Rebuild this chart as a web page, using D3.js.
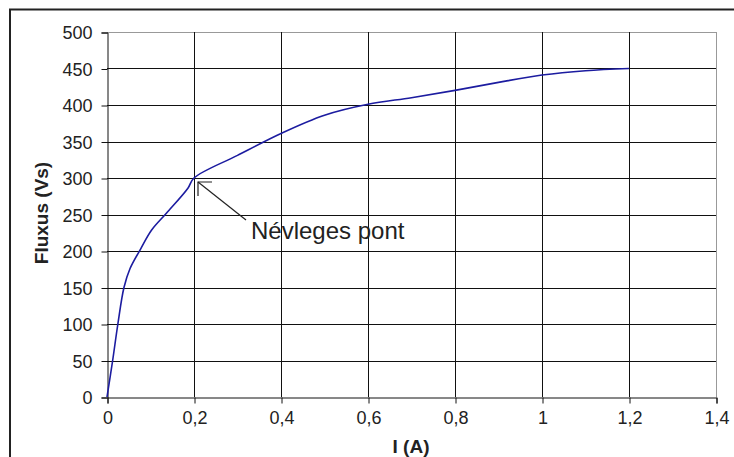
<!DOCTYPE html>
<html><head><meta charset="utf-8">
<script src="https://cdn.jsdelivr.net/npm/d3@7"></script>
<style>
html,body{margin:0;padding:0;background:#fff;}
svg{display:block;}
text{font-family:"Liberation Sans",Arial,sans-serif;fill:#222;}
</style></head>
<body><svg id="c" width="734" height="457"></svg>
<script>
// Data
const current = [0, 0.013, 0.025, 0.039, 0.053, 0.0775, 0.103, 0.137, 0.186, 0.2, 0.3, 0.4, 0.5, 0.6, 0.7, 0.8, 0.9, 1.0, 1.1, 1.2];
const flux    = [0, 50, 100, 150, 176, 203, 229, 252, 286, 300, 331, 361, 386, 401, 410, 420, 431, 441, 447, 450];
const xTicks = [0, 0.2, 0.4, 0.6, 0.8, 1, 1.2, 1.4];
const yTicks = [0, 50, 100, 150, 200, 250, 300, 350, 400, 450, 500];
const xTitle = "I (A)";
const yTitle = "Fluxus (Vs)";
const annotationText = "Névleges pont";
const annotationPoint = [0.2, 300];

const svg = d3.select("#c");
const L = 107, R = 716, T = 32, B = 397;
const x = d3.scaleLinear().domain([0, 1.4]).range([L, R]);
const y = d3.scaleLinear().domain([0, 500]).range([B, T]);
const fmt = d => String(d).replace(".", ",");

// outer frame
svg.append("rect").attr("x", 10).attr("y", 9.5).attr("width", 740).attr("height", 460)
  .attr("fill", "none").attr("stroke", "#222").attr("stroke-width", 2);

// gridlines
svg.append("g").selectAll("line").data(yTicks.filter(d => d > 0)).join("line")
  .attr("x1", L).attr("x2", R).attr("y1", d => Math.round(y(d)) + 0.5).attr("y2", d => Math.round(y(d)) + 0.5)
  .attr("stroke", d => d === 500 ? "#999" : "#111").attr("stroke-width", 1);
svg.append("g").selectAll("line").data(xTicks.filter(d => d > 0)).join("line")
  .attr("y1", T).attr("y2", B).attr("x1", d => Math.round(x(d)) + 0.5).attr("x2", d => Math.round(x(d)) + 0.5)
  .attr("stroke", d => d === 1.4 ? "#999" : "#111").attr("stroke-width", 1);

// axes
const yAxis = d3.axisLeft(y).tickValues(yTicks).tickSize(6).tickPadding(9).tickFormat(d => d);
const gy = svg.append("g").attr("transform", `translate(${L + 0.5},0.5)`).call(yAxis);
const xAxis = d3.axisBottom(x).tickValues(xTicks).tickSize(6).tickPadding(17).tickFormat(fmt);
const gx = svg.append("g").attr("transform", `translate(0.5,${B + 0.5})`).call(xAxis);
[gx, gy].forEach(g => {
  g.select(".domain").attr("stroke", "#111");
  g.selectAll(".tick line").attr("stroke", "#111");
  g.selectAll(".tick text").attr("font-size", 18).attr("fill", "#222")
    .style("font-family", '"Liberation Sans",Arial,sans-serif');
});
gy.selectAll(".tick text").attr("dy", "0.36em");
gx.selectAll(".tick text").attr("dy", "0.2em");

// titles
svg.append("text").attr("x", 411).attr("y", 453).attr("text-anchor", "middle")
  .attr("font-size", 19).attr("font-weight", "bold").text(xTitle);
svg.append("text").attr("transform", `translate(48,213) rotate(-90)`).attr("text-anchor", "middle")
  .attr("font-size", 19).attr("font-weight", "bold").text(yTitle);

// curve
const pts = current.map((c, i) => [c, flux[i]]);
svg.append("path").datum(pts)
  .attr("d", d3.line().x(d => x(d[0])).y(d => y(d[1])).curve(d3.curveCatmullRom.alpha(0.5)))
  .attr("fill", "none").attr("stroke", "#1c1ca0").attr("stroke-width", 1.6)
  .attr("stroke-linejoin", "round");

// annotation
const tx = x(annotationPoint[0]) + 4, ty = y(annotationPoint[1]) + 4;
const ax = tx + 48, ay = ty + 38;
const ann = svg.append("g").attr("stroke", "#222").attr("stroke-width", 1.2).attr("fill", "none");
ann.append("line").attr("x1", ax).attr("y1", ay).attr("x2", tx).attr("y2", ty);
ann.append("polyline").attr("points", `${tx + 14},${ty} ${tx},${ty} ${tx},${ty + 14}`);
svg.append("text").attr("x", ax + 5).attr("y", ay + 19).attr("font-size", 24).attr("fill", "#222")
  .text(annotationText);
</script></body></html>
